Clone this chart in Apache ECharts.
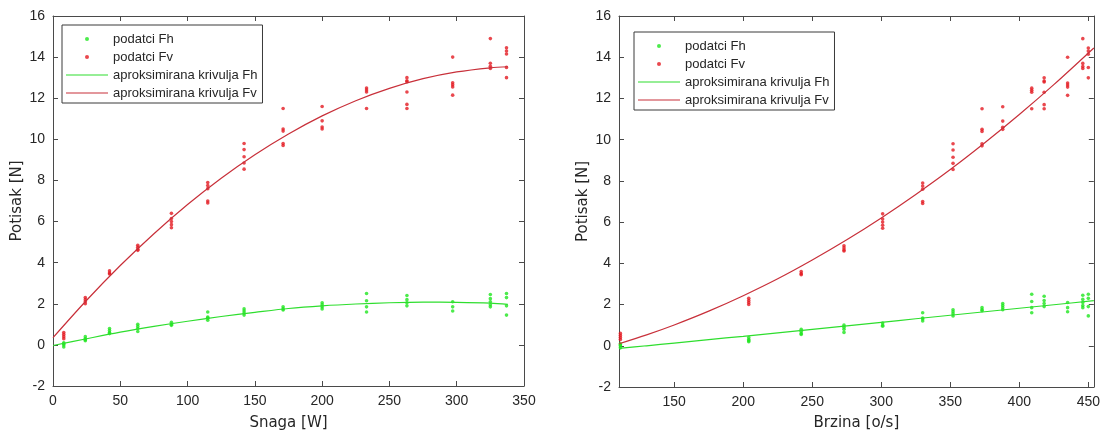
<!DOCTYPE html>
<html>
<head>
<meta charset="utf-8">
<script src="https://cdn.jsdelivr.net/npm/echarts@6/dist/echarts.min.js"></script>
<style>
html,body{margin:0;padding:0;background:#fff;}
#chart{width:1103px;height:436px;}
</style>
</head>
<body>
<div id="chart"></div>
<script>
// Measurement groups: power [W] (left) and speed [o/s] (right) for each group
const power = [8, 24, 42, 63, 88, 115, 142, 171, 200, 233, 263, 297, 325, 337];
const speed = [111, 204, 242, 273, 301, 330, 352, 373, 388, 409, 418, 435, 446, 450];

// Horizontal thrust Fh [N] per group
const fhData = [
  [0.1, 0.05, 0.0, -0.1],
  [0.4, 0.3, 0.25, 0.2],
  [0.8, 0.7, 0.6, 0.55],
  [1.0, 0.9, 0.8, 0.65],
  [1.1, 1.0, 0.95],
  [1.6, 1.35, 1.3, 1.2],
  [1.75, 1.65, 1.55, 1.45],
  [1.85, 1.75, 1.7],
  [2.05, 1.95, 1.85, 1.75],
  [2.5, 2.15, 1.85, 1.6],
  [2.4, 2.2, 2.05, 1.9],
  [2.1, 1.85, 1.65],
  [2.45, 2.25, 2.1, 1.95, 1.85],
  [2.5, 2.3, 1.9, 1.45]
];
// Vertical thrust Fv [N] per group
const fvData = [
  [0.6, 0.5, 0.4, 0.3],
  [2.3, 2.2, 2.1, 2.0],
  [3.6, 3.5, 3.45],
  [4.85, 4.75, 4.65, 4.6],
  [6.4, 6.15, 6.0, 5.85, 5.7],
  [7.9, 7.75, 7.6, 7.0, 6.9],
  [9.8, 9.5, 9.15, 8.85, 8.55],
  [11.5, 10.5, 10.4, 9.8, 9.7],
  [11.6, 10.9, 10.6, 10.5],
  [12.5, 12.4, 12.3, 11.5],
  [13.0, 12.85, 12.8, 12.3, 11.7, 11.5],
  [14.0, 12.75, 12.65, 12.55, 12.15],
  [14.9, 13.7, 13.55, 13.45],
  [14.45, 14.3, 14.15, 13.5, 13.0]
];

// Fitted curves
const powerFit   = [0, 25, 50, 75, 100, 125, 150, 175, 200, 225, 250, 275, 300, 325, 338];
const fvPowerFit = [0.35, 2.17, 3.86, 5.41, 6.83, 8.11, 9.25, 10.26, 11.14, 11.88, 12.48, 12.95, 13.28, 13.48, 13.53];
const fhPowerFit = [-0.03, 0.3, 0.62, 0.9, 1.15, 1.38, 1.58, 1.77, 1.9, 1.99, 2.05, 2.08, 2.07, 2.03, 1.97];

const speedFit   = [110, 130, 150, 175, 200, 225, 250, 275, 300, 325, 350, 375, 400, 425, 454];
const fvSpeedFit = [0.1, 0.53, 1.01, 1.68, 2.43, 3.25, 4.16, 5.14, 6.2, 7.34, 8.55, 9.85, 11.22, 12.67, 14.45];
const fhSpeedFit = [-0.13, 0.0, 0.13, 0.3, 0.46, 0.63, 0.8, 0.97, 1.14, 1.31, 1.48, 1.65, 1.82, 1.99, 2.19];

const speedTicks = [150, 200, 250, 300, 350, 400, 450];

const NAMES = ['podatci Fh', 'podatci Fv', 'aproksimirana krivulja Fh', 'aproksimirana krivulja Fv'];
const C_GREEN_PT = '#1fe61f', C_RED_PT = '#e41a22';
const C_GREEN_LN = '#2ede2e', C_RED_LN = '#c8303a';
const AX = '#4a4a4a', TXT = '#262626';

function pts(xs, groups) {
  const out = [];
  groups.forEach((g, i) => g.forEach(v => out.push([xs[i], v])));
  return out;
}
function pairs(xs, ys) { return xs.map((x, i) => [x, ys[i]]); }

const chart = echarts.init(document.getElementById('chart'), null, {renderer: 'canvas'});

function xAx(grid, min, max, name, gap, custom, top) {
  const a = {
    type: 'value', gridIndex: grid, min: min, max: max,
    position: top ? 'top' : 'bottom',
    axisLine: {show: true, onZero: false, lineStyle: {color: AX, width: 1}},
    axisTick: {show: true, inside: true, length: 5, lineStyle: {color: AX}},
    splitLine: {show: false},
    axisLabel: {show: !top, color: TXT, fontSize: 14, fontFamily: 'Liberation Sans', margin: 8},
  };
  if (custom) { a.axisTick.customValues = custom; a.axisLabel.customValues = custom; }
  else { a.interval = 50; }
  if (!top) {
    a.name = name; a.nameLocation = 'middle'; a.nameGap = gap;
    a.nameTextStyle = {color: TXT, fontSize: 15, fontFamily: 'DejaVu Sans'};
  }
  return a;
}
function yAx(grid, right) {
  const a = {
    type: 'value', gridIndex: grid, min: -2, max: 16, interval: 2,
    position: right ? 'right' : 'left',
    axisLine: {show: true, onZero: false, lineStyle: {color: AX, width: 1}},
    axisTick: {show: true, inside: true, length: 5, lineStyle: {color: AX}},
    splitLine: {show: false},
    axisLabel: {show: !right, color: TXT, fontSize: 14, fontFamily: 'Liberation Sans', margin: 8},
  };
  if (!right) {
    a.name = 'Potisak [N]'; a.nameLocation = 'middle'; a.nameGap = 28;
    a.nameTextStyle = {color: TXT, fontSize: 15, fontFamily: 'DejaVu Sans'};
  }
  return a;
}

function scatter(name, xi, yi, data, color) {
  return {name: name, type: 'scatter', xAxisIndex: xi, yAxisIndex: yi, data: data,
    symbol: 'circle', symbolSize: 3.6, itemStyle: {color: color}, z: 2, silent: true};
}
function line(name, xi, yi, data, color) {
  return {name: name, type: 'line', xAxisIndex: xi, yAxisIndex: yi, data: data,
    symbol: 'none', smooth: 0.3, lineStyle: {color: color, width: 1.2}, itemStyle: {color: color}, z: 3, silent: true};
}

const LINE_ICON = 'path://M0,0 L42,0 L42,1.2 L0,1.2 Z';
function legend(left, top) {
  return {
    orient: 'vertical', left: left, top: top,
    backgroundColor: '#fff', borderColor: '#3a3a3a', borderWidth: 1,
    padding: [5, 5, 1, 4], itemGap: 0, itemWidth: 42, itemHeight: 4,
    textStyle: {color: TXT, fontSize: 13, fontFamily: 'Liberation Sans', lineHeight: 18},
    selectedMode: false,
    data: [
      {name: NAMES[0], icon: 'circle'},
      {name: NAMES[1], icon: 'circle'},
      {name: NAMES[2], icon: LINE_ICON},
      {name: NAMES[3], icon: LINE_ICON}
    ]
  };
}

const option = {
  animation: false,
  backgroundColor: '#fff',
  grid: [
    {left: 53, top: 16, width: 471, height: 370, containLabel: false},
    {left: 619, top: 16, width: 476, height: 375, containLabel: false}
  ],
  xAxis: [
    xAx(0, 0, 350, 'Snaga [W]', 30, null, false),
    xAx(0, 0, 350, '', 0, null, true),
    xAx(1, 110, 454, 'Brzina [o/s]', 29, speedTicks, false),
    xAx(1, 110, 454, '', 0, speedTicks, true)
  ],
  yAxis: [yAx(0, false), yAx(0, true), yAx(1, false), yAx(1, true)],
  legend: [legend(62, 25), legend(634, 32)],
  series: [
    scatter(NAMES[0], 0, 0, pts(power, fhData), C_GREEN_PT),
    scatter(NAMES[1], 0, 0, pts(power, fvData), C_RED_PT),
    line(NAMES[2], 0, 0, pairs(powerFit, fhPowerFit), C_GREEN_LN),
    line(NAMES[3], 0, 0, pairs(powerFit, fvPowerFit), C_RED_LN),
    scatter(NAMES[0], 2, 2, pts(speed, fhData), C_GREEN_PT),
    scatter(NAMES[1], 2, 2, pts(speed, fvData), C_RED_PT),
    line(NAMES[2], 2, 2, pairs(speedFit, fhSpeedFit), C_GREEN_LN),
    line(NAMES[3], 2, 2, pairs(speedFit, fvSpeedFit), C_RED_LN)
  ]
};
chart.setOption(option);
</script>
</body>
</html>
